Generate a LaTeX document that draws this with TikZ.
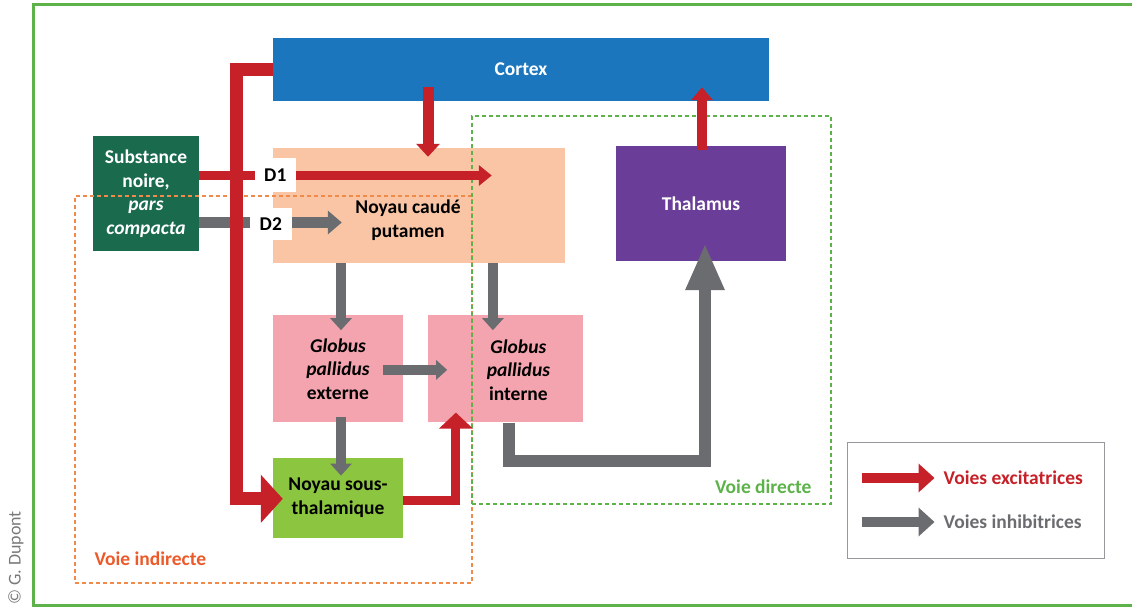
\documentclass[tikz,border=0pt]{standalone}
\usepackage{fontspec}
\setmainfont{Carlito}
\usepackage{xcolor}
\usepackage{tikz}
\usetikzlibrary{calc, arrows.meta, positioning}

\definecolor{rouge}{HTML}{C62128}
\definecolor{gris}{HTML}{6B6C70}
\definecolor{bleucortex}{HTML}{1B76BD}
\definecolor{vertsn}{HTML}{1A6B4E}
\definecolor{peche}{HTML}{F9C5A4}
\definecolor{rose}{HTML}{F3A4AE}
\definecolor{vertnst}{HTML}{8CC540}
\definecolor{violetthal}{HTML}{6A3E98}
\definecolor{vertcadre}{HTML}{5DB24A}
\definecolor{orangevi}{HTML}{F08A4B}
\definecolor{orangetxt}{HTML}{EC5A2A}

\newcommand{\police}{\fontsize{19.5pt}{23.5pt}\selectfont\bfseries}

\tikzset{
	boite/.style={inner sep=0pt, align=center, font=\police},
	etiq/.style={fill=white, inner sep=0pt, minimum width=41pt, minimum height=34pt, font=\police},
	cadre/.style={inner sep=0pt, line width=1.4pt, dash pattern=on 4pt off 3pt},
	exc/.style={draw=rouge, line width=10pt, -{Triangle[width=22pt,length=13pt]}},
	inh/.style={draw=gris, line width=10pt, -{Triangle[width=21pt,length=12pt]}},
}

\begin{document}
\begin{tikzpicture}[x=1pt, y=-1pt]
		\useasboundingbox (0,0) rectangle (1132,609);
		\draw[vertcadre, line width=3pt] (1135,5) -- (33,5) -- (33,605.5) -- (1135,605.5);
		\node[rotate=90, font=\fontsize{18pt}{20pt}\selectfont, text=gray!95!black] (copy) at (16,558) {© G. Dupont};
		\node[boite, fill=bleucortex, text=white, minimum width=496pt, minimum height=63pt] (cortex) at (521,69.5) {Cortex};
		\node[boite, fill=vertsn, text=white, minimum width=106pt, minimum height=115pt] (sn) at (146,193.5) {Substance\\noire,\\\textit{pars}\\\textit{compacta}};
		\node[boite, fill=peche, minimum width=292pt, minimum height=115pt] (nc) at (419,205.5) {};
		\node[boite] (nctexte) at (408,220) {Noyau caudé\\putamen};
		\node[boite, below right=52pt and 0pt of nc.south west, fill=rose, minimum width=130pt, minimum height=107pt] (gpe) {\textit{Globus}\\\textit{pallidus}\\externe};
		\node[boite, right=25pt of gpe, fill=rose, minimum width=155pt, minimum height=107pt] (gpi) {};
		\node[boite] (gpitexte) at ($(gpi)+(12.5,1)$) {\textit{Globus}\\\textit{pallidus}\\interne};
		\node[boite, below=35pt of gpe, fill=vertnst, minimum width=130pt, minimum height=80pt] (nst) {Noyau sous-\\thalamique};
		\node[boite, fill=violetthal, text=white, minimum width=170pt, minimum height=115pt] (thal) at (701,203.5) {Thalamus};
		\node[cadre, draw=orangevi, minimum width=397pt, minimum height=387pt] (vi) at (273.5,389.5) {};
		\node[cadre, draw=vertcadre, minimum width=359pt, minimum height=388pt] (vd) at (651.5,310) {};
		\node[font=\police, text=vertcadre, anchor=east, inner sep=0pt] (lvd) at ($(vd.south east)+(-20,-18)$) {Voie directe};
		\node[font=\police, text=orangetxt, anchor=west, inner sep=0pt] (lvi) at ($(vi.south west)+(20,-25)$) {Voie indirecte};
		\coordinate (d1fin) at ($(nc.west)+(219,-30)$);
		\coordinate (d2fin) at ($(nc.west)+(69,17)$);
		\path[draw, exc, line width=9pt, -{Triangle[width=20pt,length=13pt]}] (sn.east |- d1fin) -- (d1fin);
		\path[draw, inh, line width=11pt, -{Triangle[width=23pt,length=14pt]}] (sn.east |- d2fin) -- (d2fin);
		\path[draw, exc, line width=13pt, -{Triangle[width=47pt,length=22pt]}] (cortex.west) -- ++(-36,0) |- ($(nst.west)+(10,1)$);
		\node[etiq] (d1) at ($(nc.west |- d1fin)+(2.5,0)$) {D1};
		\node[etiq, minimum width=42pt, minimum height=32pt] (d2) at ($(nc.west |- d2fin)+(-2,1.5)$) {D2};
		\path[draw, exc, line width=11pt, -{Triangle[width=23pt,length=13pt]}] ($(cortex.south)+(-93,-14)$) -- ($(nc.north)+(9,9)$);
		\path[draw, exc, -{Triangle[width=21pt,length=13pt]}] ($(thal.north)+(1,4)$) -- ($(thal.north |- cortex.south)+(1,-14)$);
		\path[draw, inh] ($(gpe.north)+(3,-52)$) -- ($(gpe.north)+(3,15)$);
		\path[draw, inh] ($(gpi.north)+(-13,-52)$) -- ($(gpi.north)+(-13,15)$);
		\path[draw, inh, -{Triangle[width=19pt,length=11pt]}] ($(gpe.east)+(-20,1)$) -- ($(gpi.west)+(19,1)$);
		\path[draw, inh] ($(gpe.south)+(3,-6)$) -- ($(nst.north)+(3,18)$);
		\path[draw, exc, line width=9pt, -{Triangle[width=33pt,length=16pt]}] ($(nst.east)+(0,3)$) -| ($(gpi.south)+(-50,-10)$);
		\coordinate (coude) at ($(thal.south)+(4,200)$);
		\path[draw, inh, line width=12pt, -{Triangle[width=36pt,length=47pt]}] ($(gpi.south)+(3,0)$) |- (coude) -- ($(thal.south)+(4,-18)$);
		\node[draw=gris!70, line width=1pt, inner sep=0pt, minimum width=257pt, minimum height=116pt] (legende) at (975.5,500) {};
		\node[font=\police, text=rouge, anchor=west, inner sep=0pt] (lexc) at ($(legende.west)+(97,-22)$) {Voies excitatrices};
		\node[font=\police, text=gris, anchor=west, inner sep=0pt] (linh) at ($(legende.west)+(97,22)$) {Voies inhibitrices};
		\path[draw, exc, -{Triangle[width=28pt,length=16pt]}] ($(legende.west)+(15,-22)$) -- ($(lexc.west)+(-9,0)$);
		\path[draw, inh, -{Triangle[width=28pt,length=16pt]}] ($(legende.west)+(15,22)$) -- ($(linh.west)+(-9,0)$);
	\end{tikzpicture}
\end{document}
